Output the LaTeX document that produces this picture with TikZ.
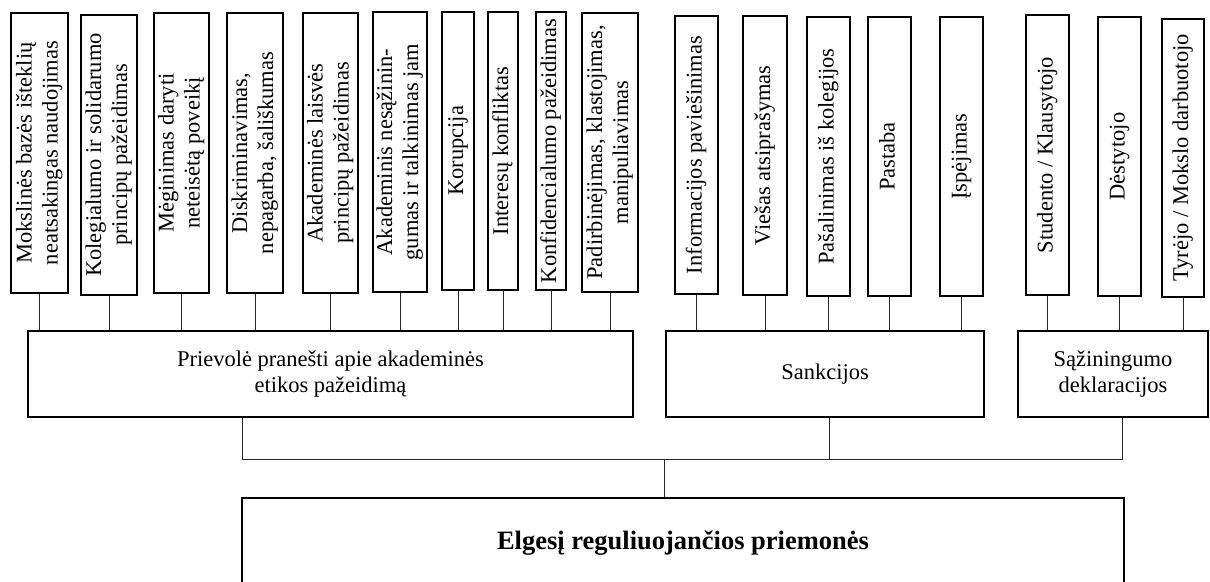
\documentclass[tikz,border=0pt]{standalone}
\usepackage{fontspec}
\setmainfont{Liberation Serif}
\usepackage{graphicx}

% upright card with rotated (bottom-to-top) text: name, x1, x2, y1, y2, lines
\newcommand\topcard[6]{%
  \node[tbox, minimum width={(#3-#2)*1pt}, minimum height={(#5-#4)*1pt}]
    (#1) at ({(#2+#3)/2},{(#4+#5)/2})
    {\rotatebox{90}{\begin{tabular}{@{}c@{}}#6\end{tabular}}};}

\begin{document}
\begin{tikzpicture}[x=1pt,y=-1pt,
  every node/.style={font=\fontsize{22.5}{26}\selectfont, inner sep=0pt},
  tbox/.style={draw, line width=1.1pt},
  mbox/.style={draw, line width=1.6pt, align=center},
  link/.style={line width=1pt, draw=black!85}]
\useasboundingbox (0,0) rectangle (1210,581);

% kinds of violations
\topcard{v1}{11}{68}{13}{293}{Mokslinės bazės išteklių\\neatsakingas naudojimas}
\topcard{v2}{81}{137}{15}{295}{Kolegialumo ir solidarumo\\principų pažeidimas}
\topcard{v3}{154}{209}{13}{293}{Mėginimas daryti\\neteisėtą poveikį}
\topcard{v4}{227}{283}{13}{293}{Diskriminavimas,\\nepagarba, šališkumas}
\topcard{v5}{303}{358}{13}{293}{Akademinės laisvės\\principų pažeidimas}
\topcard{v6}{373}{427}{12}{292}{Akademinis nesąžinin-\\gumas ir talkinimas jam}
\topcard{v7}{442}{474}{12}{290}{Korupcija}
\topcard{v8}{488}{518}{12}{290}{Interesų konfliktas}
\topcard{v9}{536}{566}{12}{290}{Konfidencialumo pažeidimas}
\topcard{v10}{582}{638}{13}{292}{Padirbinėjimas, klastojimas,\\manipuliavimas}

% sanctions
\topcard{s1}{675}{718}{16}{294}{Informacijos paviešinimas}
\topcard{s2}{743}{787}{16}{295}{Viešas atsiprašymas}
\topcard{s3}{807}{850}{17}{296}{Pašalinimas iš kolegijos}
\topcard{s4}{868}{911}{17}{296}{Pastaba}
\topcard{s5}{940}{983}{17}{296}{Įspėjimas}

% declarations
\topcard{d1}{1026}{1069}{15}{295}{Studento / Klausytojo}
\topcard{d2}{1098}{1141}{17}{296}{Dėstytojo}
\topcard{d3}{1162}{1204}{19}{297}{Tyrėjo / Mokslo darbuotojo}

% group boxes
\node[mbox, minimum width=605pt, minimum height=86pt] (prv) at (330.5,374)
  {Prievolė pranešti apie akademinės\\etikos pažeidimą};
\node[mbox, minimum width=318pt, minimum height=86pt] (snk) at (825,374) {Sankcijos};
\node[mbox, minimum width=190pt, minimum height=86pt] (sz) at (1113,374)
  {Sąžiningumo\\deklaracijos};

% root box (its lower edge lies below the page)
\node[mbox, minimum width=882pt, minimum height=90pt,
  font=\fontsize{26.5}{30}\selectfont\bfseries] (elg) at (683,543)
  {Elgesį reguliuojančios priemonės};

% stems to the group boxes
\foreach \n in {v1,v2,v3,v4,v5,v6,v7,v8,v9,v10}
  \draw[link] (\n.south) -- (\n.south |- prv.north);
\foreach \n in {s1,s2,s3,s4,s5}
  \draw[link] (\n.south) -- (\n.south |- snk.north);
\foreach \n in {d1,d2,d3}
  \draw[link] (\n.south) -- (\n.south |- sz.north);

% collecting bus to the root
\coordinate (busL) at (242,459);
\coordinate (busR) at (1122,459);
\coordinate (busM) at (664,459);
\draw[link] (prv.south -| busL) -- (busL) -- (busR) -- (sz.south -| busR);
\draw[link] ([xshift=4pt]snk.south) -- ([xshift=4pt]snk.south |- busL);
\draw[link] (busM) -- (busM |- elg.north);
\end{tikzpicture}
\end{document}
